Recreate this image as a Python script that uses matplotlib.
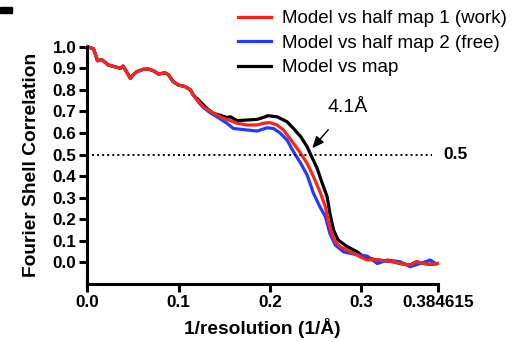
import numpy as np
import matplotlib
matplotlib.use("Agg")
import matplotlib.pyplot as plt
from matplotlib.patches import Rectangle

plt.rcParams['font.family'] = ['Liberation Sans', 'DejaVu Sans']

# FSC curves
x_work = [0.0, 0.0066, 0.011, 0.0156, 0.023, 0.030, 0.036, 0.039, 0.042, 0.047, 0.050, 0.054,
          0.061, 0.067, 0.072, 0.078, 0.085, 0.089, 0.094, 0.100, 0.107, 0.113, 0.116, 0.122,
          0.127, 0.135, 0.142, 0.149, 0.157, 0.164, 0.175, 0.186, 0.193, 0.200, 0.208, 0.215,
          0.222, 0.230, 0.235, 0.241, 0.248, 0.255, 0.261, 0.264, 0.268, 0.272, 0.277, 0.285,
          0.292, 0.299, 0.307, 0.314, 0.325, 0.336, 0.343, 0.354, 0.361, 0.369, 0.376, 0.384]
y_work = [1.0, 0.99, 0.935, 0.94, 0.915, 0.907, 0.90, 0.91, 0.89, 0.853, 0.869, 0.884,
          0.895, 0.896, 0.889, 0.873, 0.879, 0.869, 0.838, 0.822, 0.815, 0.80, 0.776, 0.745,
          0.722, 0.699, 0.683, 0.668, 0.657, 0.645, 0.637, 0.637, 0.645, 0.648, 0.637, 0.614,
          0.575, 0.529, 0.498, 0.459, 0.397, 0.328, 0.258, 0.196, 0.134, 0.096, 0.073, 0.057,
          0.042, 0.026, 0.011, 0.014, 0.008, 0.003, -0.005, -0.012, 0.003, -0.005, -0.009, -0.005]

x_free = [0.0, 0.0066, 0.011, 0.0156, 0.023, 0.030, 0.036, 0.039, 0.042, 0.047, 0.050, 0.054,
          0.061, 0.067, 0.072, 0.078, 0.085, 0.089, 0.094, 0.100, 0.107, 0.113, 0.116, 0.122,
          0.127, 0.135, 0.142, 0.153, 0.160, 0.175, 0.186, 0.197, 0.204, 0.211, 0.219, 0.226,
          0.234, 0.241, 0.248, 0.255, 0.261, 0.266, 0.272, 0.281, 0.292, 0.307, 0.318, 0.329,
          0.343, 0.354, 0.365, 0.376, 0.382]
y_free = [1.0, 0.99, 0.935, 0.94, 0.915, 0.907, 0.90, 0.91, 0.89, 0.853, 0.869, 0.884,
          0.895, 0.896, 0.889, 0.873, 0.879, 0.869, 0.838, 0.822, 0.815, 0.80, 0.776, 0.742,
          0.718, 0.693, 0.675, 0.645, 0.621, 0.614, 0.609, 0.624, 0.621, 0.601, 0.567, 0.513,
          0.459, 0.405, 0.32, 0.258, 0.212, 0.134, 0.08, 0.049, 0.039, 0.029, -0.005, 0.011,
          0.003, -0.02, -0.005, 0.011, -0.005]

x_map = [0.0, 0.0066, 0.011, 0.0156, 0.023, 0.030, 0.036, 0.039, 0.042, 0.047, 0.050, 0.054,
         0.061, 0.067, 0.072, 0.078, 0.085, 0.089, 0.094, 0.100, 0.107, 0.113, 0.116, 0.122,
         0.131, 0.138, 0.145, 0.153, 0.157, 0.164, 0.175, 0.186, 0.193, 0.198, 0.208, 0.219,
         0.226, 0.234, 0.241, 0.246, 0.252, 0.257, 0.263, 0.266, 0.270, 0.275, 0.285, 0.296,
         0.303, 0.314, 0.325, 0.336, 0.343, 0.354, 0.361, 0.369, 0.376, 0.384]
y_map = [1.0, 0.99, 0.935, 0.94, 0.915, 0.907, 0.90, 0.91, 0.89, 0.853, 0.869, 0.884,
         0.895, 0.896, 0.889, 0.873, 0.879, 0.869, 0.838, 0.822, 0.815, 0.80, 0.776, 0.753,
         0.714, 0.691, 0.683, 0.672, 0.675, 0.657, 0.660, 0.663, 0.672, 0.680, 0.675, 0.652,
         0.621, 0.583, 0.536, 0.490, 0.436, 0.374, 0.304, 0.227, 0.15, 0.104, 0.073, 0.049,
         0.026, 0.014, 0.008, 0.003, -0.005, -0.012, 0.003, -0.005, -0.009, -0.005]

labels = ["Model vs half map 1 (work)", "Model vs half map 2 (free)", "Model vs map"]
x_ticks = [0.0, 0.1, 0.2, 0.3, 0.384615]
x_ticklabels = ["0.0", "0.1", "0.2", "0.3", "0.384615"]
y_ticks = [0.0, 0.1, 0.2, 0.3, 0.4, 0.5, 0.6, 0.7, 0.8, 0.9, 1.0]
threshold = 0.5

fig = plt.figure(figsize=(5.29, 3.42), dpi=100)
ax = fig.add_axes([0.1654, 0.1696, 0.6626, 0.6939])

lw = 2.3
l3, = ax.plot(x_map, y_map, color='black', lw=lw, clip_on=False)
l2, = ax.plot(x_free, y_free, color='#1f3cff', lw=lw, clip_on=False)
l1, = ax.plot(x_work, y_work, color='#ff2318', lw=lw, clip_on=False)

ax.plot([0, 0.378], [threshold, threshold], color='black', lw=1.4, linestyle=(0, (1, 1.6)))
ax.text(0.39, threshold, "0.5", fontsize=12.5, fontweight='bold', va='center', ha='left')

ax.annotate("4.1Å", xy=(0.2467, 0.53), xytext=(0.285, 0.716),
            fontsize=14, ha='center', va='center',
            arrowprops=dict(arrowstyle='-|>,head_length=0.5,head_width=0.22', color='black',
                            lw=1.0, shrinkA=10, shrinkB=0))

ax.set_xlim(0, 0.384615)
ax.set_ylim(-0.1, 1.0)
ax.set_xticks(x_ticks)
ax.set_xticklabels(x_ticklabels)
ax.set_yticks(y_ticks)
ax.set_yticklabels([f"{v:.1f}" for v in y_ticks])
for s in ['top', 'right']:
    ax.spines[s].set_visible(False)
for s in ['left', 'bottom']:
    ax.spines[s].set_linewidth(2.2)
ax.tick_params(width=2.2, length=6, direction='out', labelsize=12.3, pad=2)
for t in ax.get_xticklabels() + ax.get_yticklabels():
    t.set_fontweight('bold')

ax.set_xlabel("1/resolution (1/Å)", fontsize=13.8, fontweight='bold', labelpad=6)
ax.set_ylabel("Fourier Shell Correlation", fontsize=13.8, fontweight='bold', labelpad=9)

fig.legend([l1, l2, l3], labels, loc='upper left', bbox_to_anchor=(238 / 529, 1 - 10 / 342),
           frameon=False, fontsize=13.5, handlelength=1.75, handletextpad=0.6,
           labelspacing=0.4, borderpad=0, borderaxespad=0)

fig.patches.append(Rectangle((0, 1 - 13 / 342), 12 / 529, 6 / 342, transform=fig.transFigure,
                             color='black'))

fig.savefig("out.png", dpi=100)
